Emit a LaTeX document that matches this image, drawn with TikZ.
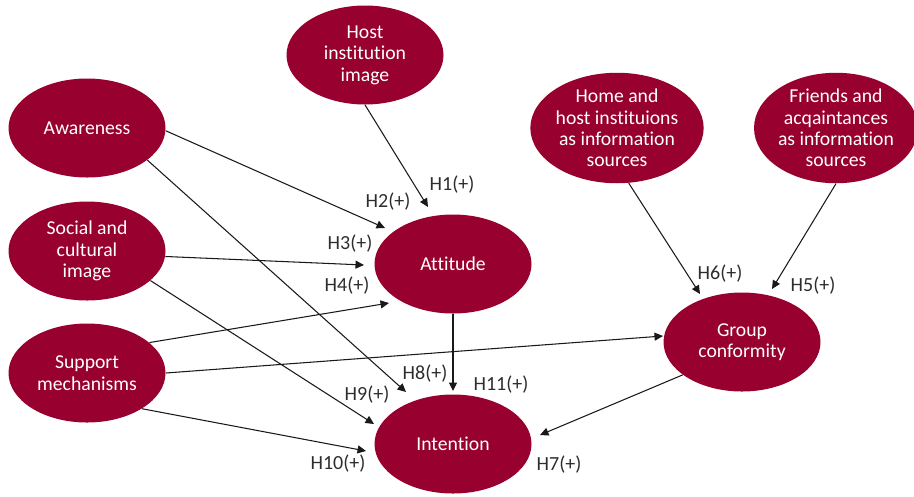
\documentclass[tikz,border=0pt]{standalone}
\usepackage{fontspec}
\setmainfont{Carlito}[Ligatures=NoCommon]
\usepackage{tikz}
\usetikzlibrary{shapes.geometric, arrows.meta}
\definecolor{maroon}{RGB}{152,0,48}
\definecolor{labgray}{RGB}{45,45,45}

\begin{document}
\begin{tikzpicture}[
    construct/.style={ellipse, fill=maroon, text=white, minimum width=3.14cm, minimum height=1.98cm, inner sep=0pt, align=center, font=\fontsize{11.2}{12.2}\selectfont},
    link/.style={-{Triangle[length=1.7mm, width=1.6mm]}, line width=0.6pt, draw=black!90},
    hyp/.style={text=labgray, font=\fontsize{11.4}{13}\selectfont}
]
\useasboundingbox (0,0) rectangle (18.28,-9.92);

% constructs
\node[construct] (aware) at (1.74,-2.56) {Awareness};
\node[construct] (host) at (7.30,-1.10) {Host\\institution\\image};
\node[construct] (social) at (1.74,-5.02) {Social and\\cultural\\image};
\node[construct] (support) at (1.74,-7.46) {Support\\mechanisms};
\node[construct] (att) at (9.06,-5.28) {Attitude};
\node[construct] (intent) at (9.06,-8.88) {Intention};
\node[construct] (group) at (14.84,-6.84) {Group\\conformity};
\node[construct] (home) at (12.34,-2.56) {Home and\\host instituions\\as information\\sources};
\node[construct] (friends) at (16.72,-2.56) {Friends and\\acqaintances\\as information\\sources};

% arrow tips
\foreach \name/\x/\y in {
    tA/8.56/-4.14, tB/7.70/-4.56, tC/8.12/-7.84,
    tD/7.28/-5.30, tE/7.48/-8.48, tF/7.78/-6.06,
    tG/13.26/-6.72, tH/7.32/-9.02, tI/9.06/-7.82,
    tJ/14.00/-5.88, tK/15.44/-5.78, tL/10.80/-8.70} {
    \coordinate (\name) at (\x,\y);
}

% paths
\foreach \from/\to in {
    host.south/tA, aware.-2/tB, aware.-28/tC,
    social.-4/tD, social.-25/tE, support.26/tF,
    support.east/tG, support.-33/tH, att.south/tI,
    home.-78/tJ, friends.south/tK, group.-151/tL} {
    \draw[link] (\from) -- (\to);
}

% hypotheses
\foreach \lab/\x/\y [count=\i] in {
    H1(+)/9.04/-3.70, H2(+)/7.76/-4.04, H3(+)/7.00/-4.88,
    H4(+)/6.94/-5.72, H5(+)/16.26/-5.72, H6(+)/14.40/-5.48,
    H7(+)/11.18/-9.30, H8(+)/8.50/-7.48, H9(+)/7.34/-7.90,
    H10(+)/6.76/-9.28, H11(+)/10.02/-7.70} {
    \node[hyp] (h\i) at (\x,\y) {\lab};
}
\end{tikzpicture}
\end{document}
